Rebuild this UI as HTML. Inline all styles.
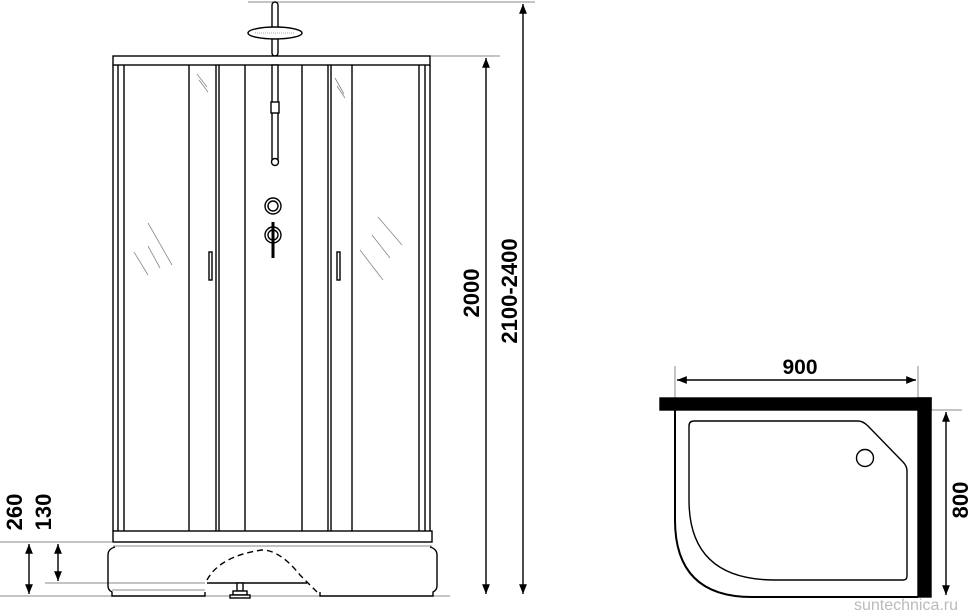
<!DOCTYPE html>
<html><head><style>body{margin:0;background:#fff}svg{display:block}</style></head><body>
<svg width="970" height="614" viewBox="0 0 970 614" xmlns="http://www.w3.org/2000/svg" font-family="Liberation Sans, sans-serif">
<defs>
<marker id="a" viewBox="0 0 10 10" refX="10" refY="5" markerWidth="7" markerHeight="7" orient="auto-start-reverse"><path d="M0,1 L10,5 L0,9 z" fill="#000"/></marker>
</defs>
<g stroke="#000" fill="none" stroke-width="1.4">
<g stroke="#888" stroke-width="1">
<line x1="248" y1="2" x2="535" y2="2"/>
<line x1="430" y1="56" x2="500" y2="56"/>
<line x1="0" y1="542" x2="112" y2="542"/>
<line x1="45" y1="583" x2="205" y2="583"/>
<line x1="0" y1="596" x2="450" y2="596"/>
<line x1="675" y1="366" x2="675" y2="398"/>
<line x1="918" y1="366" x2="918" y2="398"/>
<line x1="931" y1="410" x2="962" y2="410"/>
</g>
<line x1="486" y1="58" x2="486" y2="594" marker-start="url(#a)" marker-end="url(#a)"/>
<line x1="523" y1="4" x2="523" y2="594" marker-start="url(#a)" marker-end="url(#a)"/>
<line x1="29" y1="544" x2="29" y2="594" marker-start="url(#a)" marker-end="url(#a)"/>
<line x1="58" y1="544" x2="58" y2="581" marker-start="url(#a)" marker-end="url(#a)"/>
<line x1="677" y1="380" x2="916" y2="380" marker-start="url(#a)" marker-end="url(#a)"/>
<line x1="946" y1="412" x2="946" y2="595" marker-start="url(#a)" marker-end="url(#a)"/>
<rect x="272" y="2" width="6" height="54" rx="3" fill="#fff"/>
<ellipse cx="275" cy="33" rx="27" ry="6" fill="#fff"/>
<line x1="255" y1="33" x2="295" y2="33" stroke="#aaa" stroke-dasharray="1,1" stroke-width="1"/>
<rect x="113" y="56" width="317" height="9" fill="#fff"/>
<g>
<line x1="113" y1="65" x2="113" y2="531"/><line x1="118" y1="65" x2="118" y2="531"/><line x1="124" y1="65" x2="124" y2="531"/>
<line x1="189" y1="65" x2="189" y2="531"/><line x1="216" y1="65" x2="216" y2="531"/><line x1="219" y1="65" x2="219" y2="531"/>
<line x1="245" y1="65" x2="245" y2="531"/><line x1="302" y1="65" x2="302" y2="531"/>
<line x1="328" y1="65" x2="328" y2="531"/><line x1="331" y1="65" x2="331" y2="531"/>
<line x1="352" y1="65" x2="352" y2="531"/><line x1="419" y1="65" x2="419" y2="531"/>
<line x1="425" y1="65" x2="425" y2="531"/><line x1="430" y1="65" x2="430" y2="531"/>
</g>
<g stroke="#888" stroke-width="0.8">
<line x1="197" y1="74" x2="207" y2="87"/><line x1="199" y1="80" x2="208" y2="92"/>
<line x1="335" y1="78" x2="344" y2="94"/><line x1="337" y1="86" x2="345" y2="98"/>
<line x1="148" y1="223" x2="172" y2="265"/><line x1="148" y1="246" x2="160" y2="268"/><line x1="134" y1="252" x2="148" y2="275"/>
<line x1="378" y1="217" x2="402" y2="245"/><line x1="360" y1="250" x2="383" y2="280"/><line x1="372" y1="235" x2="390" y2="258"/>
</g>
<rect x="272" y="65" width="6" height="97" fill="#fff"/>
<rect x="271" y="102" width="8" height="11" fill="#fff"/>
<circle cx="275" cy="162" r="3.5" fill="#fff"/>
<circle cx="273" cy="206" r="8"/><circle cx="273" cy="206" r="5"/>
<circle cx="273" cy="235" r="8"/><circle cx="273" cy="235" r="5"/>
<line x1="273" y1="222" x2="273" y2="258" stroke-width="3"/>
<rect x="209" y="252" width="3" height="28"/>
<rect x="337" y="252" width="3" height="28"/>
<rect x="113" y="531" width="319" height="11" fill="#fff"/>
<line x1="113" y1="546" x2="432" y2="546" stroke="#888" stroke-width="1"/>
<path d="M115,547 Q108,549 108,555 L108,586 Q108,590 112,592 L112,596 L205,596 L205,592"/>
<path d="M430,547 Q437,549 437,555 L437,586 Q437,590 433,592 L433,596 L320,596 L320,592"/>
<line x1="112" y1="590" x2="205" y2="590" stroke="#888" stroke-width="1"/>
<line x1="207" y1="583" x2="307" y2="583"/>
<path d="M207,580 Q220,556 262,550 Q280,550 300,575 L317,592" stroke-dasharray="6,4"/>
<rect x="237" y="583" width="6" height="8" fill="#fff"/>
<rect x="233" y="591" width="14" height="4" fill="#fff"/>
<rect x="230" y="595" width="20" height="3" fill="#fff"/>
<rect x="660" y="398" width="271" height="12" fill="#000"/>
<rect x="918" y="398" width="13" height="199" fill="#000"/>
<path d="M675,410 L675,520 Q675,597 752,597 L918,597" stroke-width="2"/>
<path d="M694,421 L858,421 Q863,421 868,426 L903,462 Q907,466 907,471 L907,576 Q907,580 903,580 L775,580 Q689,580 689,500 L689,426 Q689,421 694,421 Z"/>
<circle cx="865" cy="458" r="8.5"/>
</g>
<g font-weight="bold" font-size="22" fill="#000">
<text x="0" y="0" transform="translate(479,293) rotate(-90)" text-anchor="middle">2000</text>
<text x="0" y="0" transform="translate(517,291) rotate(-90)" text-anchor="middle">2100-2400</text>
<text x="0" y="0" transform="translate(22,512) rotate(-90)" text-anchor="middle">260</text>
<text x="0" y="0" transform="translate(51,512) rotate(-90)" text-anchor="middle">130</text>
<text x="0" y="0" transform="translate(968,500) rotate(-90)" text-anchor="middle">800</text>
<text x="800" y="374" text-anchor="middle" font-size="21">900</text>
</g>
<text x="906" y="610" text-anchor="middle" font-size="16" fill="#bbb">suntechnica.ru</text>
</svg>
</body></html>
